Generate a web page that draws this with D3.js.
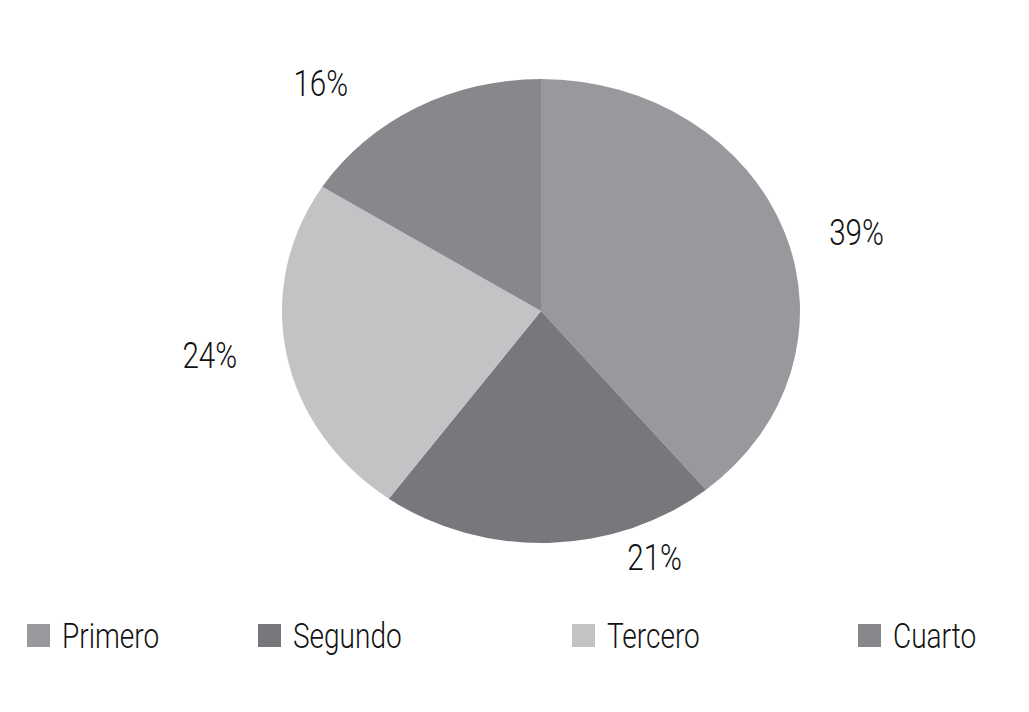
<!DOCTYPE html>
<html>
<head>
<meta charset="utf-8">
<script src="https://cdn.jsdelivr.net/npm/d3@7"></script>
<style>
  html, body { margin: 0; padding: 0; background: #fff; }
  svg { display: block; }
  text { font-family: Roboto, "Liberation Sans", sans-serif; font-weight: 300; fill: #111; }
</style>
</head>
<body>
<svg id="chart" width="1029" height="712"></svg>
<script>
// Share of each quarter
const categories = ["Primero", "Segundo", "Tercero", "Cuarto"];
const values = [39, 21, 24, 16];
const colors = ["#98999d", "#77787b", "#c2c3c5", "#87888b"];

const width = 1029, height = 712;
const cx = 541, cy = 311;      // pie centre
const rx = 259, ry = 232;      // elliptical pie radii
const condense = 0.8;          // horizontal squeeze for the narrow type

const svg = d3.select("#chart");

const pie = d3.pie().sort(null).value(d => d.value);
const arcs = pie(categories.map((c, i) => ({ name: c, value: values[i] })));

const arc = d3.arc().innerRadius(0).outerRadius(ry);

// Pie drawn as a circle and stretched horizontally into an ellipse
const pieG = svg.append("g")
  .attr("transform", `translate(${cx},${cy}) scale(${rx / ry},1)`);

pieG.selectAll("path")
  .data(arcs)
  .join("path")
  .attr("d", arc)
  .attr("fill", (d, i) => colors[i]);

// Percentage labels placed outside each slice
const labelArc = d3.arc().innerRadius(ry * 1.18).outerRadius(ry * 1.18);
const labelOffsets = [[28, 14], [104, -27], [-31, -7], [-73, 12]];
svg.append("g")
  .selectAll("text")
  .data(arcs)
  .join("text")
  .attr("transform", (d, i) => {
    const [x, y] = labelArc.centroid(d);
    return `translate(${cx + x * rx / ry + labelOffsets[i][0]},${cy + y + labelOffsets[i][1]}) scale(${condense},1)`;
  })
  .attr("text-anchor", "middle")
  .attr("dominant-baseline", "central")
  .style("font-size", "37px")
  .text(d => d.data.value + "%");

// Legend
const legendX = [27, 258, 572, 858];
const legend = svg.append("g")
  .selectAll("g")
  .data(categories)
  .join("g")
  .attr("transform", (d, i) => `translate(${legendX[i]},624)`);

legend.append("rect")
  .attr("width", 23)
  .attr("height", 23)
  .attr("fill", (d, i) => colors[i]);

legend.append("text")
  .attr("transform", `translate(35,24) scale(${condense},1)`)
  .style("font-size", "35px")
  .text(d => d);
</script>
</body>
</html>
